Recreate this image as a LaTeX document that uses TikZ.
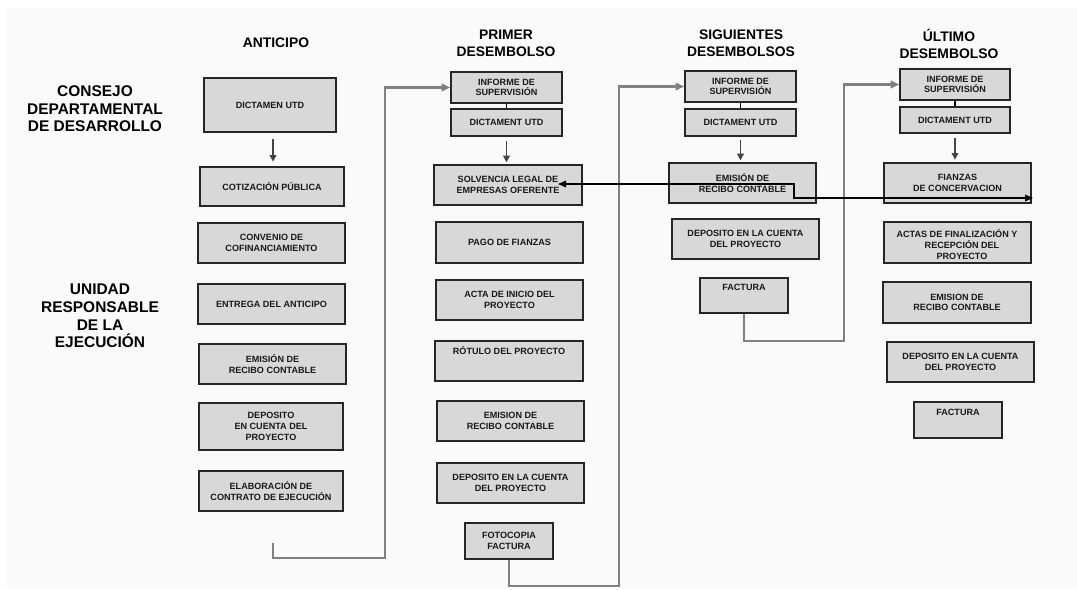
\documentclass[tikz,border=0pt]{standalone}
\usepackage{fontspec}
\setmainfont{Liberation Sans}
\usetikzlibrary{arrows.meta}
\definecolor{boxfill}{HTML}{D8D8D8}
\definecolor{bgfill}{HTML}{FAFAFA}
\definecolor{conngray}{HTML}{808080}
\definecolor{downgray}{HTML}{444444}
% \bx[options]{name}{x1}{y1}{x2}{y2}{text}
\newcommand\bx[7][]{\node[box, minimum width={(#5-#3)*0.75pt}, minimum height={(#6-#4)*0.75pt}, #1] (#2) at ({(#3+#5)/2},{(#4+#6)/2}) {#7};}
\begin{document}
\begin{tikzpicture}[x=0.75pt,y=-0.75pt,
  box/.style={draw=black!85, line width=1pt, fill=boxfill, inner sep=0pt,
    font=\bfseries\fontsize{6.8}{8}\selectfont, align=center, text=black!90},
  boxtext/.style={inner sep=0pt, font=\bfseries\fontsize{6.8}{8.25}\selectfont, align=center, text=black!90},
  toplabel/.style={anchor=base, inner sep=0pt, font=\bfseries\fontsize{6.8}{8}\selectfont, text=black!90},
  head/.style={font=\bfseries\fontsize{10.4}{12.75}\selectfont, align=center, inner sep=0pt},
  side/.style={font=\bfseries\fontsize{11.6}{13.2}\selectfont, align=center, inner sep=0pt},
  grayconn/.style={draw=conngray, line width=1.8pt, -{Triangle[length=6.5pt,width=5.5pt]}},
  downarrow/.style={draw=downgray, line width=1.4pt, -{Triangle[length=5pt,width=5pt]}},
  tie/.style={draw=black, line width=1.2pt},
  blackconn/.style={draw=black, line width=0.8pt, {Triangle[length=6pt,width=5pt]}-{Triangle[length=6pt,width=5pt]}}
]
\useasboundingbox (0,0) rectangle (1077,589);
\fill[white] (0,0) rectangle (1077,589);
\fill[bgfill] (7,8) rectangle (1077,589);

% side labels
\node[side] (consejo) at (95,109) {CONSEJO\\DEPARTAMENTAL\\DE DESARROLLO};
\node[side] (unidad) at (100,316) {UNIDAD\\RESPONSABLE\\DE LA\\EJECUCIÓN};

% headings
\node[head] (hant) at (276,43) {ANTICIPO};
\node[head] (hpri) at (506,43.5) {PRIMER\\DESEMBOLSO};
\node[head] (hsig) at (741,43.5) {SIGUIENTES\\DESEMBOLSOS};
\node[head] (hult) at (949,43.5) {ÚLTIMO\\DESEMBOLSO};

% ANTICIPO column
\bx{dic0}{204}{78}{336}{132}{DICTAMEN UTD}
\bx{cot}{200}{167}{344}{206}{COTIZACIÓN PÚBLICA}
\bx{conv}{198}{223}{345}{263}{CONVENIO DE\\COFINANCIAMIENTO}
\bx{ent}{198}{284}{345}{324}{ENTREGA DEL ANTICIPO}
\bx{emi0}{199}{344}{346}{384}{EMISIÓN DE\\RECIBO CONTABLE}
\bx{dep0}{199}{403}{343}{450}{DEPOSITO\\EN CUENTA DEL\\PROYECTO}
\bx{ela}{199}{471}{343}{511}{ELABORACIÓN DE\\CONTRATO DE EJECUCIÓN}

% PRIMER DESEMBOLSO column
\bx{inf1}{451}{72}{562}{103}{INFORME DE\\SUPERVISIÓN}
\bx{dic1}{451}{109}{562}{136}{DICTAMENT UTD}
\bx{solv}{434}{165}{582}{205}{SOLVENCIA LEGAL DE\\EMPRESAS OFERENTE}
\bx{pago}{436}{222}{583}{263}{PAGO DE FIANZAS}
\bx{acta}{436}{280}{583}{320}{ACTA DE INICIO DEL\\PROYECTO}
\bx[label={[toplabel, yshift=-10.5pt]north:RÓTULO DEL PROYECTO}]{rot}{435}{341}{583}{381}{}
\bx{emi1}{437}{401}{584}{441}{EMISION DE\\RECIBO CONTABLE}
\bx{dep1}{437}{463}{584}{503}{DEPOSITO EN LA CUENTA\\DEL PROYECTO}
\bx{fot}{465}{523}{553}{559}{FOTOCOPIA\\FACTURA}

% SIGUIENTES DESEMBOLSOS column
\bx{inf2}{685}{71}{796}{102}{INFORME DE\\SUPERVISIÓN}
\bx{dic2}{685}{109}{796}{136}{DICTAMENT UTD}
\bx{emi2}{669}{163}{816}{203}{EMISIÓN DE\\RECIBO CONTABLE}
\bx{dep2}{672}{219}{819}{259}{DEPOSITO EN LA CUENTA\\DEL PROYECTO}
\bx[label={[toplabel, yshift=-9.75pt]north:FACTURA}]{fac2}{700}{278}{788}{313}{}

% ULTIMO DESEMBOLSO column
\bx{inf3}{900}{69}{1010}{100}{INFORME DE\\SUPERVISIÓN}
\bx{dic3}{900}{107}{1010}{133}{DICTAMENT UTD}
\bx{fz}{884}{163}{1031}{203}{FIANZAS\\DE CONCERVACION}
\bx{act}{884}{222}{1031}{263}{}
\begin{scope}
  \clip (885,223) rectangle (1030,258);
  \node[boxtext] (acttext) at (957,245) {ACTAS DE FINALIZACIÓN Y\\\hspace*{7.5pt}RECEPCIÓN DEL\\\hspace*{7.5pt}PROYECTO};
\end{scope}
\bx{emi3}{883}{282}{1031}{323}{EMISION DE\\RECIBO CONTABLE}
\bx{dep3}{887}{342}{1034}{382}{DEPOSITO EN LA CUENTA\\DEL PROYECTO}
\bx[label={[toplabel, yshift=-10.5pt]north:FACTURA}]{fac3}{914}{402}{1002}{438}{}

% short ties and arrows
\draw[tie] (inf1.south) -- (dic1.north);
\draw[tie] (inf2.south) -- (dic2.north);
\draw[tie] (inf3.south) -- (dic3.north);
\draw[downarrow, shorten <=5pt, shorten >=3.5pt] ([xshift=2.25pt]dic0.south) -- ([xshift=2.25pt]dic0.south |- cot.north);
\draw[downarrow, shorten <=3.5pt, shorten >=1.5pt] (dic1.south) -- (dic1.south |- solv.north);
\draw[downarrow, shorten <=2.5pt, shorten >=1.5pt] (dic2.south) -- (dic2.south |- emi2.north);
\draw[downarrow, shorten <=3.5pt, shorten >=2pt] (dic3.south) -- (dic3.south |- fz.north);

% gray connectors between columns
\coordinate (s1) at (273,543);
\coordinate (b1) at (385,558);
\draw[grayconn] (s1) |- (b1) |- (inf1.west);
\coordinate (b2) at (619,586);
\draw[grayconn] (fot.south) |- (b2) |- (inf2.west);
\coordinate (b3) at (844,341);
\draw[grayconn] (fac2.south) |- (b3) |- (inf3.west);

% black connector
\coordinate (t1) at (558,184);
\coordinate (m1) at (794,198);
\coordinate (t2) at (1033,198);
\draw[blackconn] (t1) -| (m1) |- (t2);
\end{tikzpicture}
\end{document}
